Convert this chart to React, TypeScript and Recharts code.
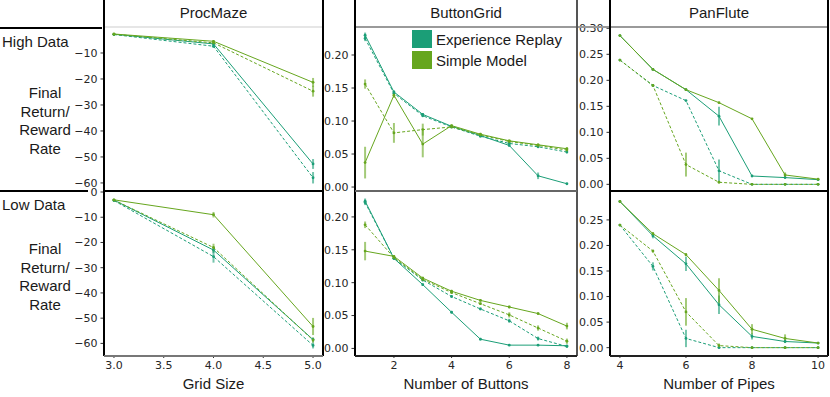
import { LineChart, Line, XAxis, YAxis, ErrorBar } from "recharts"

const REPLAY = "#1b9e77"
const MODEL = "#66a61e"
const TICK_FONT = "DejaVu Sans"
const TEXT_FONT = "Liberation Sans, Arial, sans-serif"

const gridSizes = [3, 4, 5]
const buttonCounts = [1, 2, 3, 4, 5, 6, 7, 8]
const pipeCounts = [4, 5, 6, 7, 8, 9, 10]

// ProcMaze, high data
const mazeHighReplay = [-2.8, -6.5, -52.7]
const mazeHighReplayDash = [-2.9, -7.4, -58]
const mazeHighModel = [-2.7, -5.5, -21.3]
const mazeHighModelDash = [-2.8, -6.1, -24.7]
const mazeHighReplayErr = [0.2, 0.6, 1.9]
const mazeHighReplayDashErr = [0.2, 0.6, 2.2]
const mazeHighModelErr = [0.2, 0.5, 1.7]
const mazeHighModelDashErr = [0.2, 0.5, 2.1]

// ProcMaze, low data
const mazeLowReplay = [-3.2, -23, -58.5]
const mazeLowReplayDash = [-3.4, -25.6, -60.8]
const mazeLowModel = [-3.1, -9, -53.3]
const mazeLowModelDash = [-3.2, -22, -58.7]
const mazeLowReplayErr = [0.3, 1.2, 0.8]
const mazeLowReplayDashErr = [0.3, 2.4, 1.2]
const mazeLowModelErr = [0.3, 1.1, 3.4]
const mazeLowModelDashErr = [0.3, 1.5, 1]

// ButtonGrid, high data
const buttonHighReplay = [0.23, 0.144, 0.11, 0.092, 0.078, 0.063, 0.017, 0.005]
const buttonHighReplayDash = [0.225, 0.142, 0.108, 0.091, 0.077, 0.066, 0.061, 0.053]
const buttonHighModel = [0.037, 0.139, 0.065, 0.093, 0.08, 0.07, 0.064, 0.058]
const buttonHighModelDash = [0.156, 0.082, 0.087, 0.091, 0.079, 0.069, 0.063, 0.056]
const buttonHighReplayErr = [0.004, 0.002, 0.002, 0.002, 0.002, 0.002, 0.005, 0.001]
const buttonHighReplayDashErr = [0.004, 0.002, 0.002, 0.002, 0.002, 0.002, 0.002, 0.002]
const buttonHighModelErr = [0.024, 0.004, 0.02, 0.002, 0.002, 0.002, 0.002, 0.002]
const buttonHighModelDashErr = [0.007, 0.015, 0.009, 0.002, 0.002, 0.002, 0.002, 0.002]

// ButtonGrid, low data
const buttonLowReplay = [0.224, 0.137, 0.097, 0.055, 0.014, 0.005, 0.005, 0.004]
const buttonLowReplayDash = [0.222, 0.137, 0.104, 0.079, 0.06, 0.042, 0.015, 0.003]
const buttonLowModel = [0.148, 0.14, 0.107, 0.087, 0.073, 0.063, 0.053, 0.034]
const buttonLowModelDash = [0.188, 0.138, 0.105, 0.085, 0.068, 0.051, 0.031, 0.011]
const buttonLowReplayErr = [0.004, 0.002, 0.002, 0.002, 0.002, 0.001, 0.001, 0.001]
const buttonLowReplayDashErr = [0.004, 0.002, 0.002, 0.002, 0.002, 0.003, 0.003, 0.002]
const buttonLowModelErr = [0.014, 0.002, 0.002, 0.002, 0.002, 0.002, 0.002, 0.005]
const buttonLowModelDashErr = [0.005, 0.002, 0.002, 0.002, 0.002, 0.004, 0.004, 0.004]

// PanFlute, high data
const pipeHighReplay = [0.286, 0.221, 0.182, 0.131, 0.016, 0.013, 0.009]
const pipeHighReplayDash = [0.239, 0.19, 0.161, 0.026, 0, 0, 0]
const pipeHighModel = [0.286, 0.221, 0.182, 0.157, 0.126, 0.018, 0.01]
const pipeHighModelDash = [0.239, 0.19, 0.038, 0.004, 0, 0, 0]
const pipeHighReplayErr = [0, 0, 0, 0.018, 0.002, 0.002, 0]
const pipeHighReplayDashErr = [0, 0, 0, 0.022, 0, 0, 0]
const pipeHighModelErr = [0, 0, 0, 0, 0, 0.005, 0]
const pipeHighModelDashErr = [0, 0, 0.023, 0.002, 0, 0, 0]

// PanFlute, low data
const pipeLowReplay = [0.286, 0.219, 0.164, 0.084, 0.022, 0.012, 0.009]
const pipeLowReplayDash = [0.24, 0.159, 0.018, 0, 0, 0, 0]
const pipeLowModel = [0.286, 0.223, 0.182, 0.112, 0.036, 0.018, 0.009]
const pipeLowModelDash = [0.24, 0.189, 0.07, 0.004, 0, 0, 0]
const pipeLowReplayErr = [0, 0.005, 0.014, 0.018, 0.006, 0.003, 0]
const pipeLowReplayDashErr = [0, 0.008, 0.017, 0, 0, 0, 0]
const pipeLowModelErr = [0, 0.003, 0.003, 0.024, 0.01, 0.008, 0]
const pipeLowModelDashErr = [0, 0.003, 0.027, 0.004, 0, 0, 0]

function rows(xs: number[], s: number[][], e: number[][]) {
  return xs.map((x, i) => ({
    x,
    rs: s[0][i], rd: s[1][i], ms: s[2][i], md: s[3][i],
    rsE: e[0][i], rdE: e[1][i], msE: e[2][i], mdE: e[3][i],
  }))
}

const minusFmt = (v: number) => (v < 0 ? "\u2212" + Math.abs(v) : String(v))
const twoFmt = (v: number) => v.toFixed(2)
const oneFmt = (v: number) => v.toFixed(1)

const series = [
  { key: "rs", err: "rsE", color: REPLAY, dash: undefined },
  { key: "rd", err: "rdE", color: REPLAY, dash: "3 2" },
  { key: "ms", err: "msE", color: MODEL, dash: undefined },
  { key: "md", err: "mdE", color: MODEL, dash: "3 2" },
]

type PanelProps = {
  data: any[]
  left: number
  top: number
  width: number
  height: number
  xDomain: number[]
  xTicks: number[]
  xFmt: (v: number) => string
  yDomain: number[]
  yTicks: number[]
  yFmt: (v: number) => string
  showX: boolean
}

const YW = 38
const PAD = 8

function Panel(p: PanelProps) {
  const tickStyle = { fontSize: 11, fill: "#262626", fontFamily: TICK_FONT }
  const bottom = p.showX ? 0 : PAD
  return (
    <div style={{ position: "absolute", left: p.left - YW, top: p.top - PAD }}>
      <LineChart
        width={p.width + YW}
        height={p.height + PAD + bottom + (p.showX ? 26 : 0)}
        data={p.data}
        margin={{ top: PAD, right: 0, bottom, left: 0 }}
      >
        <XAxis
          dataKey="x"
          type="number"
          domain={p.xDomain}
          ticks={p.xTicks}
          tickFormatter={p.xFmt}
          allowDataOverflow
          hide={!p.showX}
          height={26}
          axisLine={false}
          tickSize={3}
          tickMargin={3}
          tickLine={{ stroke: "#333" }}
          tick={tickStyle}
          interval={0}
        />
        <YAxis
          type="number"
          domain={p.yDomain}
          ticks={p.yTicks}
          tickFormatter={p.yFmt}
          allowDataOverflow
          width={YW}
          axisLine={false}
          tickSize={3.5}
          tickMargin={3}
          tickLine={{ stroke: "#333" }}
          tick={tickStyle}
          interval={0}
        />
        {series.map((s) => (
          <Line
            key={s.key}
            dataKey={s.key}
            type="linear"
            stroke={s.color}
            strokeWidth={1}
            strokeDasharray={s.dash}
            dot={{ r: 1.4, fill: s.color, stroke: s.color, strokeWidth: 0 }}
            isAnimationActive={false}
          >
            <ErrorBar dataKey={s.err} width={0} stroke={s.color} strokeWidth={2} strokeOpacity={0.6} direction="y" />
          </Line>
        ))}
      </LineChart>
    </div>
  )
}

const txt = (s: any) => ({ position: "absolute" as const, fontFamily: TEXT_FONT, fontSize: 15, color: "#1a1a1a", whiteSpace: "nowrap" as const, ...s })
const line = (s: any) => ({ position: "absolute" as const, background: "#000", ...s })

export default function App() {
  const mazeTicks = [3, 3.5, 4, 4.5, 5]
  const TOP = 27
  const MID = 191
  const H = 164
  return (
    <div style={{ position: "absolute", left: 0, top: 0, width: 830, height: 397, background: "#fff", overflow: "hidden" }}>
      <Panel data={rows(gridSizes, [mazeHighReplay, mazeHighReplayDash, mazeHighModel, mazeHighModelDash], [mazeHighReplayErr, mazeHighReplayDashErr, mazeHighModelErr, mazeHighModelDashErr])}
        left={104} top={TOP} width={219} height={H} xDomain={[2.9, 5.1]} xTicks={mazeTicks} xFmt={oneFmt}
        yDomain={[-63.1, 0]} yTicks={[-60, -50, -40, -30, -20, -10]} yFmt={minusFmt} showX={false} />
      <Panel data={rows(gridSizes, [mazeLowReplay, mazeLowReplayDash, mazeLowModel, mazeLowModelDash], [mazeLowReplayErr, mazeLowReplayDashErr, mazeLowModelErr, mazeLowModelDashErr])}
        left={104} top={MID} width={219} height={H} xDomain={[2.9, 5.1]} xTicks={mazeTicks} xFmt={oneFmt}
        yDomain={[-64.6, 0.4]} yTicks={[-60, -50, -40, -30, -20, -10, 0]} yFmt={minusFmt} showX={true} />
      <Panel data={rows(buttonCounts, [buttonHighReplay, buttonHighReplayDash, buttonHighModel, buttonHighModelDash], [buttonHighReplayErr, buttonHighReplayDashErr, buttonHighModelErr, buttonHighModelDashErr])}
        left={355} top={TOP} width={222} height={H} xDomain={[0.65, 8.35]} xTicks={[2, 4, 6, 8]} xFmt={String}
        yDomain={[-0.006, 0.2424]} yTicks={[0, 0.05, 0.1, 0.15, 0.2]} yFmt={twoFmt} showX={false} />
      <Panel data={rows(buttonCounts, [buttonLowReplay, buttonLowReplayDash, buttonLowModel, buttonLowModelDash], [buttonLowReplayErr, buttonLowReplayDashErr, buttonLowModelErr, buttonLowModelDashErr])}
        left={355} top={MID} width={222} height={H} xDomain={[0.65, 8.35]} xTicks={[2, 4, 6, 8]} xFmt={String}
        yDomain={[-0.010, 0.2394]} yTicks={[0, 0.05, 0.1, 0.15, 0.2]} yFmt={twoFmt} showX={true} />
      <Panel data={rows(pipeCounts, [pipeHighReplay, pipeHighReplayDash, pipeHighModel, pipeHighModelDash], [pipeHighReplayErr, pipeHighReplayDashErr, pipeHighModelErr, pipeHighModelDashErr])}
        left={610} top={TOP} width={218} height={H} xDomain={[3.7, 10.3]} xTicks={[4, 6, 8, 10]} xFmt={String}
        yDomain={[-0.0128, 0.3025]} yTicks={[0, 0.05, 0.1, 0.15, 0.2, 0.25, 0.3]} yFmt={twoFmt} showX={false} />
      <Panel data={rows(pipeCounts, [pipeLowReplay, pipeLowReplayDash, pipeLowModel, pipeLowModelDash], [pipeLowReplayErr, pipeLowReplayDashErr, pipeLowModelErr, pipeLowModelDashErr])}
        left={610} top={MID} width={218} height={H} xDomain={[3.7, 10.3]} xTicks={[4, 6, 8, 10]} xFmt={String}
        yDomain={[-0.0144, 0.3066]} yTicks={[0, 0.05, 0.1, 0.15, 0.2, 0.25]} yFmt={twoFmt} showX={true} />

      {/* column strips */}
      <div style={txt({ left: 104, width: 219, top: 4, textAlign: "center" })}>ProcMaze</div>
      <div style={txt({ left: 355, width: 222, top: 4, textAlign: "center" })}>ButtonGrid</div>
      <div style={txt({ left: 610, width: 218, top: 4, textAlign: "center" })}>PanFlute</div>
      <div style={line({ left: 104, top: 26, width: 219, height: 2, background: "#e6e6e6" })} />
      <div style={line({ left: 355, top: 26, width: 473, height: 1.5, background: "#9a9a9a" })} />

      {/* row headers */}
      <div style={line({ left: 0, top: 27, width: 102, height: 2 })} />
      <div style={line({ left: 0, top: 190, width: 88, height: 2 })} />
      <div style={txt({ left: 2, top: 33 })}>High Data</div>
      <div style={txt({ left: 0, width: 90, top: 84, textAlign: "center", lineHeight: "18.5px" })}>Final<br />Return/<br />Reward<br />Rate</div>
      <div style={txt({ left: 2, top: 196 })}>Low Data</div>
      <div style={txt({ left: 0, width: 90, top: 240, textAlign: "center", lineHeight: "18.5px" })}>Final<br />Return/<br />Reward<br />Rate</div>

      {/* panel frames */}
      <div style={line({ left: 103, top: 0, width: 2, height: 356 })} />
      <div style={line({ left: 322, top: 0, width: 2, height: 356 })} />
      <div style={line({ left: 354, top: 0, width: 2, height: 356 })} />
      <div style={line({ left: 576, top: 0, width: 1.5, height: 356, background: "#555" })} />
      <div style={line({ left: 609, top: 0, width: 2, height: 356 })} />
      <div style={line({ left: 827, top: 0, width: 2, height: 356 })} />
      <div style={line({ left: 104, top: 190, width: 219, height: 1.5 })} />
      <div style={line({ left: 355, top: 189.5, width: 222, height: 2.5, background: "#666" })} />
      <div style={line({ left: 610, top: 190, width: 218, height: 1.5 })} />
      <div style={line({ left: 104, top: 355, width: 219, height: 1.5, background: "#777" })} />
      <div style={line({ left: 355, top: 355, width: 222, height: 1.5, background: "#222" })} />
      <div style={line({ left: 610, top: 355, width: 218, height: 1.5, background: "#222" })} />

      {/* legend */}
      <div style={{ position: "absolute", left: 412, top: 30, width: 20, height: 18, background: REPLAY }} />
      <div style={{ position: "absolute", left: 412, top: 51, width: 20, height: 18, background: MODEL }} />
      <div style={txt({ left: 436, top: 31 })}>Experience Replay</div>
      <div style={txt({ left: 436, top: 52 })}>Simple Model</div>

      {/* axis titles */}
      <div style={txt({ left: 104, width: 219, top: 375, textAlign: "center" })}>Grid Size</div>
      <div style={txt({ left: 355, width: 222, top: 375, textAlign: "center" })}>Number of Buttons</div>
      <div style={txt({ left: 610, width: 218, top: 375, textAlign: "center" })}>Number of Pipes</div>
    </div>
  )
}
